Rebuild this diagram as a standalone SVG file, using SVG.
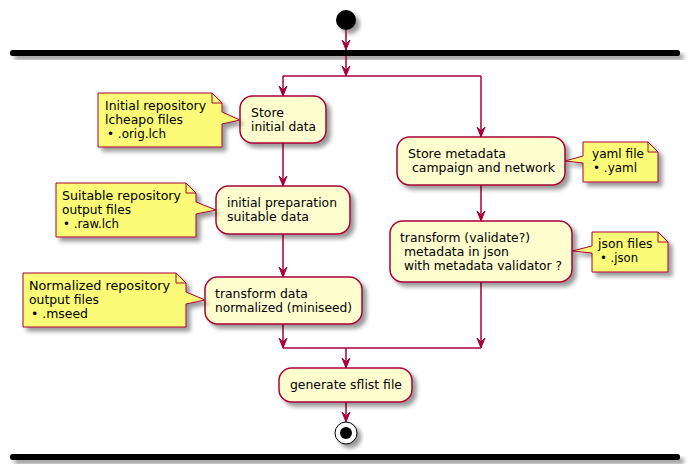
<svg xmlns="http://www.w3.org/2000/svg" width="696" height="476" viewBox="0 0 696 476">
<defs>
<filter id="sh" x="-20%" y="-20%" width="150%" height="180%">
<feGaussianBlur in="SourceAlpha" stdDeviation="2" result="b"/>
<feColorMatrix in="b" type="matrix" values="0 0 0 0 0  0 0 0 0 0  0 0 0 0 0  0 0 0 0.4 0" result="c"/>
<feOffset in="c" dx="4" dy="4" result="o"/>
<feMerge><feMergeNode in="o"/><feMergeNode in="SourceGraphic"/></feMerge>
</filter>
</defs>
<style>
text{font-family:"DejaVu Sans","Liberation Sans",sans-serif;font-size:12px;fill:#000;white-space:pre}
.box{fill:#FEFECE;stroke:#A80036;stroke-width:1.5}
.note{fill:#FBFB77;stroke:#A80036;stroke-width:1}
.fold{fill:none;stroke:#A80036;stroke-width:1}
.ln{fill:none;stroke:#A80036;stroke-width:1.5}
.hd{fill:#A80036;stroke:#A80036;stroke-width:1}
.bar{fill:#000}
</style>
<rect width="696" height="476" fill="#FFFFFF"/>

<g id="start"><circle cx="346" cy="20" r="10" fill="#000" filter="url(#sh)"/></g>
<g id="fork-bar"><rect class="bar" x="10" y="50" width="670" height="6" rx="2.5" filter="url(#sh)"/></g>
<g id="end-bar"><rect class="bar" x="10" y="454" width="670" height="6" rx="2.5" filter="url(#sh)"/></g>

<g id="connectors">
<path class="ln" d="M346,30 L346,50"/><polygon class="hd" points="342,40 346,50 350,40 346,44"/>
<path class="ln" d="M346,56 L346,76"/><polygon class="hd" points="342,66 346,76 350,66 346,70"/>
<path class="ln" d="M283,76 L481,76"/>
<path class="ln" d="M283,76 L283,96"/><polygon class="hd" points="279,86 283,96 287,86 283,90"/>
<path class="ln" d="M481,76 L481,137"/><polygon class="hd" points="477,127 481,137 485,127 481,131"/>
<path class="ln" d="M283,143 L283,186"/><polygon class="hd" points="279,176 283,186 287,176 283,180"/>
<path class="ln" d="M283,234 L283,277"/><polygon class="hd" points="279,267 283,277 287,267 283,271"/>
<path class="ln" d="M283,324 L283,348"/><polygon class="hd" points="279,338 283,348 287,338 283,342"/>
<path class="ln" d="M481,185 L481,221"/><polygon class="hd" points="477,211 481,221 485,211 481,215"/>
<path class="ln" d="M481,282 L481,348"/><polygon class="hd" points="477,338 481,348 485,338 481,342"/>
<path class="ln" d="M283,348 L481,348"/>
<path class="ln" d="M346,348 L346,368"/><polygon class="hd" points="342,358 346,368 350,358 346,362"/>
<path class="ln" d="M346,402 L346,422"/><polygon class="hd" points="342,412 346,422 350,412 346,416"/>
</g>

<g id="store-initial">
<rect class="box" x="240" y="96" width="86" height="47" rx="12.5" filter="url(#sh)"/>
<text x="251" y="117" textLength="33" lengthAdjust="spacingAndGlyphs">Store</text>
<text x="251" y="131" textLength="65" lengthAdjust="spacingAndGlyphs">initial data</text>
</g>
<g id="note-initial">
<path class="note" d="M98,93 L212,93 L222,103 L222,112 L240,120 L222,124 L222,147 L98,147 Z" filter="url(#sh)"/>
<path class="fold" d="M212,93 L212,103 L222,103"/>
<text x="105" y="110" textLength="101" lengthAdjust="spacingAndGlyphs">Initial repository</text>
<text x="105" y="124" textLength="78" lengthAdjust="spacingAndGlyphs">lcheapo files</text>
<text x="107" y="138" textLength="59" lengthAdjust="spacingAndGlyphs">• .orig.lch</text>
</g>

<g id="initial-prep">
<rect class="box" x="216" y="186" width="134" height="48" rx="12.5" filter="url(#sh)"/>
<text x="227" y="207" textLength="110" lengthAdjust="spacingAndGlyphs">initial preparation</text>
<text x="227" y="221" textLength="82" lengthAdjust="spacingAndGlyphs">suitable data</text>
</g>
<g id="note-suitable">
<path class="note" d="M56,183 L186,183 L196,193 L196,202 L216,210 L196,214 L196,237 L56,237 Z" filter="url(#sh)"/>
<path class="fold" d="M186,183 L186,193 L196,193"/>
<text x="62" y="200" textLength="119" lengthAdjust="spacingAndGlyphs">Suitable repository</text>
<text x="62" y="214" textLength="69" lengthAdjust="spacingAndGlyphs">output files</text>
<text x="63" y="228" textLength="56" lengthAdjust="spacingAndGlyphs">• .raw.lch</text>
</g>

<g id="transform-data">
<rect class="box" x="205" y="277" width="157" height="47" rx="12.5" filter="url(#sh)"/>
<text x="215" y="298" textLength="93" lengthAdjust="spacingAndGlyphs">transform data</text>
<text x="215" y="312" textLength="137" lengthAdjust="spacingAndGlyphs">normalized (miniseed)</text>
</g>
<g id="note-normalized">
<path class="note" d="M23,273 L176,273 L186,283 L186,292 L205,300 L186,304 L186,327 L23,327 Z" filter="url(#sh)"/>
<path class="fold" d="M176,273 L176,283 L186,283"/>
<text x="29" y="290" textLength="141" lengthAdjust="spacingAndGlyphs">Normalized repository</text>
<text x="29" y="304" textLength="70" lengthAdjust="spacingAndGlyphs">output files</text>
<text x="31" y="318" textLength="57" lengthAdjust="spacingAndGlyphs">• .mseed</text>
</g>

<g id="store-metadata">
<rect class="box" x="397" y="137" width="168" height="48" rx="12.5" filter="url(#sh)"/>
<text x="408" y="158" textLength="98" lengthAdjust="spacingAndGlyphs">Store metadata</text>
<text x="408" y="172" textLength="147" lengthAdjust="spacingAndGlyphs"> campaign and network</text>
</g>
<g id="note-yaml">
<path class="note" d="M583,142 L648,142 L658,152 L658,182 L583,182 L583,163 L565,161 L583,156 Z" filter="url(#sh)"/>
<path class="fold" d="M648,142 L648,152 L658,152"/>
<text x="592" y="158" textLength="52" lengthAdjust="spacingAndGlyphs">yaml file</text>
<text x="593" y="172" textLength="44" lengthAdjust="spacingAndGlyphs">• .yaml</text>
</g>

<g id="transform-metadata">
<rect class="box" x="390" y="221" width="182" height="61" rx="12.5" filter="url(#sh)"/>
<text x="400" y="242" textLength="130" lengthAdjust="spacingAndGlyphs">transform (validate?)</text>
<text x="400" y="256" textLength="109" lengthAdjust="spacingAndGlyphs"> metadata in json</text>
<text x="400" y="270" textLength="162" lengthAdjust="spacingAndGlyphs"> with metadata validator ?</text>
</g>
<g id="note-json">
<path class="note" d="M592,232 L658,232 L668,242 L668,272 L592,272 L592,253 L572,251 L592,246 Z" filter="url(#sh)"/>
<path class="fold" d="M658,232 L658,242 L668,242"/>
<text x="598" y="248" textLength="54.5" lengthAdjust="spacingAndGlyphs">json files</text>
<text x="600" y="262" textLength="38" lengthAdjust="spacingAndGlyphs">• .json</text>
</g>

<g id="generate-sflist">
<rect class="box" x="279" y="368" width="133" height="34" rx="12.5" filter="url(#sh)"/>
<text x="290" y="389" textLength="112" lengthAdjust="spacingAndGlyphs">generate sflist file</text>
</g>

<g id="end">
<circle cx="346" cy="433" r="11" fill="#FFFFFF" stroke="#000" stroke-width="1" filter="url(#sh)"/>
<circle cx="346" cy="433" r="6" fill="#000"/>
</g>
</svg>
